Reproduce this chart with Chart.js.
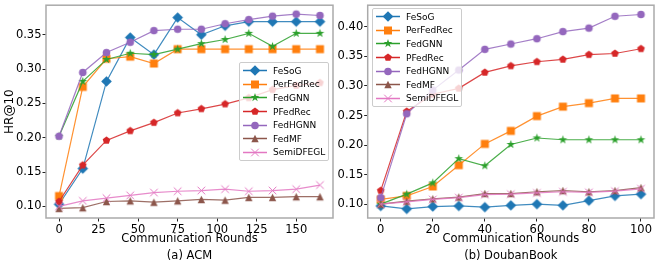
<!DOCTYPE html>
<html>
<head>
<meta charset="utf-8">
<script src="https://cdn.jsdelivr.net/npm/chart.js@4.4.0/dist/chart.umd.min.js"></script>
<style>
  body { margin: 0; background: #fff; font-family: "DejaVu Sans", sans-serif; }
  #wrap { position: relative; width: 660px; height: 264px; overflow: hidden; }
  .panel { position: absolute; top: 0; height: 265px; }
  .legend {
    position: absolute; width: 88px; padding: 1px 0;
    border: 1px solid #cccccc; border-radius: 2px;
    background: rgba(255, 255, 255, 0.8);
  }
  .legend .row { display: flex; align-items: center; height: 13.6px; }
  .legend canvas { margin-left: 3px; margin-right: 6px; }
  .legend span { font-size: 9px; color: #000; white-space: nowrap; }
</style>
</head>
<body>
<div id="wrap">
  <div class="panel" style="left:0;width:340px"><canvas id="acm" width="340" height="265"></canvas></div>
  <div class="panel" style="left:334px;width:326px"><canvas id="douban" width="326" height="265"></canvas></div>
  <div class="legend" id="acm-legend" style="left:239px;top:62px"></div>
  <div class="legend" id="douban-legend" style="left:372px;top:8px"></div>
</div>
<script>
// ---- data ----
const methods = ["FeSoG", "PerFedRec", "FedGNN", "PFedRec", "FedHGNN", "FedMF", "SemiDFEGL"];

const acmRounds = [0, 15, 30, 45, 60, 75, 90, 105, 120, 135, 150, 165];
const acmFeSoG     = [0.103, 0.155, 0.282, 0.346, 0.321, 0.375, 0.350, 0.363, 0.369, 0.369, 0.369, 0.369];
const acmPerFedRec = [0.115, 0.274, 0.315, 0.318, 0.308, 0.329, 0.329, 0.329, 0.329, 0.329, 0.329, 0.329];
const acmFedGNN    = [0.202, 0.282, 0.314, 0.323, 0.321, 0.329, 0.337, 0.343, 0.352, 0.333, 0.352, 0.352];
const acmPFedRec   = [0.107, 0.160, 0.196, 0.210, 0.222, 0.236, 0.242, 0.249, 0.258, 0.270, 0.276, 0.280];
const acmFedHGNN   = [0.202, 0.295, 0.324, 0.339, 0.356, 0.358, 0.358, 0.366, 0.372, 0.377, 0.380, 0.378];
const acmFedMF     = [0.097, 0.098, 0.107, 0.108, 0.106, 0.108, 0.110, 0.109, 0.113, 0.113, 0.114, 0.114];
const acmSemiDFEGL = [0.100, 0.108, 0.112, 0.116, 0.120, 0.122, 0.123, 0.125, 0.122, 0.123, 0.125, 0.131];

const doubanRounds = [0, 10, 20, 30, 40, 50, 60, 70, 80, 90, 100];
const doubanFeSoG     = [0.097, 0.092, 0.096, 0.097, 0.095, 0.098, 0.100, 0.098, 0.106, 0.114, 0.117];
const doubanPerFedRec = [0.108, 0.114, 0.130, 0.166, 0.202, 0.224, 0.249, 0.265, 0.271, 0.279, 0.279];
const doubanFedGNN    = [0.100, 0.117, 0.136, 0.177, 0.165, 0.201, 0.212, 0.209, 0.209, 0.209, 0.209];
const doubanPFedRec   = [0.123, 0.257, 0.286, 0.296, 0.323, 0.334, 0.341, 0.345, 0.353, 0.355, 0.363];
const doubanFedHGNN   = [0.111, 0.253, 0.293, 0.327, 0.362, 0.371, 0.380, 0.392, 0.398, 0.418, 0.421];
const doubanFedMF     = [0.100, 0.105, 0.109, 0.112, 0.118, 0.118, 0.121, 0.123, 0.121, 0.123, 0.128];
const doubanSemiDFEGL = [0.100, 0.104, 0.108, 0.111, 0.116, 0.117, 0.119, 0.121, 0.120, 0.122, 0.126];

const acmXTicks = [0, 25, 50, 75, 100, 125, 150];
const acmYTicks = [0.10, 0.15, 0.20, 0.25, 0.30, 0.35];
const doubanXTicks = [0, 20, 40, 60, 80, 100];
const doubanYTicks = [0.10, 0.15, 0.20, 0.25, 0.30, 0.35, 0.40];

// ---- styles ----
const colors = ["#1f77b4", "#ff7f0e", "#2ca02c", "#d62728", "#9467bd", "#8c564b", "#e377c2"];
const shapes = ["diamond", "square", "star", "pentagon", "circle", "triangle", "x"];

Chart.defaults.font.family = "'DejaVu Sans', sans-serif";
Chart.defaults.color = "#000";

// draw a matplotlib-like marker onto a context, centred at (cx, cy)
function drawMarker(g, shape, color, cx, cy) {
    g.fillStyle = color;
    g.strokeStyle = color;
    g.lineWidth = 1;
    g.beginPath();
    if (shape === "diamond") {
        const r = 5.3;
        g.moveTo(cx, cy - r); g.lineTo(cx + r, cy); g.lineTo(cx, cy + r); g.lineTo(cx - r, cy);
        g.closePath(); g.fill();
    } else if (shape === "square") {
        g.rect(cx - 4, cy - 4, 8, 8); g.fill();
    } else if (shape === "circle") {
        g.arc(cx, cy, 3.8, 0, Math.PI * 2); g.fill();
    } else if (shape === "triangle") {
        const r = 3.7;
        g.moveTo(cx, cy - r); g.lineTo(cx + r, cy + r); g.lineTo(cx - r, cy + r);
        g.closePath(); g.fill();
    } else if (shape === "star" || shape === "pentagon") {
        const n = shape === "star" ? 10 : 5;
        const outer = shape === "star" ? 4.6 : 4.0;
        for (let i = 0; i < n; i++) {
            const r = shape === "star" && i % 2 ? outer * 0.382 : outer;
            const a = -Math.PI / 2 + (i * 2 * Math.PI) / n;
            const px = cx + r * Math.cos(a);
            const py = cy + r * Math.sin(a);
            if (i === 0) g.moveTo(px, py); else g.lineTo(px, py);
        }
        g.closePath(); g.fill();
    } else if (shape === "x") {
        const r = 3.8;
        g.moveTo(cx - r, cy - r); g.lineTo(cx + r, cy + r);
        g.moveTo(cx + r, cy - r); g.lineTo(cx - r, cy + r);
        g.stroke();
    }
}

function markerCanvas(shape, color) {
    const c = document.createElement("canvas");
    c.width = 13; c.height = 13;
    drawMarker(c.getContext("2d"), shape, color, 6.5, 6.5);
    return c;
}

// gray frame round the plot area, like matplotlib spines
const framePlugin = {
    id: "frame",
    afterDatasetsDraw(chart) {
        const { ctx, chartArea: a } = chart;
        ctx.save();
        ctx.strokeStyle = "#aaaaaa";
        ctx.lineWidth = 1.5;
        ctx.strokeRect(a.left, a.top, a.right - a.left, a.bottom - a.top);
        ctx.restore();
    },
};

function buildLegend(id) {
    const box = document.getElementById(id);
    methods.forEach((name, i) => {
        const row = document.createElement("div");
        row.className = "row";
        const c = document.createElement("canvas");
        c.width = 24; c.height = 13;
        const g = c.getContext("2d");
        g.strokeStyle = colors[i];
        g.lineWidth = 1.5;
        g.beginPath(); g.moveTo(0, 6.5); g.lineTo(24, 6.5); g.stroke();
        drawMarker(g, shapes[i], colors[i], 12, 6.5);
        const label = document.createElement("span");
        label.textContent = name;
        row.appendChild(c);
        row.appendChild(label);
        box.appendChild(row);
    });
}

function makeChart(id, rounds, series, cfg) {
    const ctx = document.getElementById(id);
    const datasets = series.map((vals, i) => ({
        label: methods[i],
        data: rounds.map((x, k) => ({ x, y: vals[k] })),
        borderColor: colors[i] + "d9",
        borderWidth: 1.2,
        pointStyle: markerCanvas(shapes[i], colors[i]),
        pointRadius: 4,
        pointHoverRadius: 4,
        tension: 0,
        fill: false,
        order: series.length - i,
    }));
    const tickGrid = { display: true, drawOnChartArea: false, drawTicks: true, tickLength: 3.5, tickColor: "#222", tickWidth: 1 };
    return new Chart(ctx, {
        type: "line",
        data: { datasets },
        options: {
            responsive: false,
            animation: false,
            devicePixelRatio: 1,
            layout: { padding: { top: 4.5, right: cfg.padRight, left: 0, bottom: 0 } },
            plugins: { legend: { display: false }, tooltip: { enabled: false } },
            scales: {
                x: {
                    type: "linear",
                    min: cfg.xMin,
                    max: cfg.xMax,
                    grid: tickGrid,
                    border: { display: false },
                    ticks: { font: { size: 11.5 }, padding: 1.5, maxRotation: 0, callback: (v) => v },
                    afterBuildTicks: (s) => { s.ticks = cfg.xTicks.map((v) => ({ value: v })); },
                    afterFit: (s) => { s.height = 47; s.paddingLeft = 0; s.paddingRight = 0; },
                    title: {
                        display: true,
                        text: ["Communication Rounds", cfg.caption],
                        font: { size: 11.5, lineHeight: 17 / 11.5 },
                        padding: { top: 0, bottom: 0 },
                    },
                },
                y: {
                    min: cfg.yMin,
                    max: cfg.yMax,
                    grid: tickGrid,
                    border: { display: false },
                    ticks: { font: { size: 11.5 }, padding: 1, callback: (v) => v.toFixed(2) },
                    afterBuildTicks: (s) => { s.ticks = cfg.yTicks.map((v) => ({ value: v })); },
                    afterFit: (s) => { s.width = cfg.yWidth; s.paddingTop = 0; s.paddingBottom = 0; },
                    title: {
                        display: !!cfg.yTitle,
                        text: cfg.yTitle || "",
                        font: { size: 12 },
                        padding: { top: 3, bottom: 0 },
                    },
                },
            },
        },
        plugins: [framePlugin],
    });
}

makeChart(
    "acm",
    acmRounds,
    [acmFeSoG, acmPerFedRec, acmFedGNN, acmPFedRec, acmFedHGNN, acmFedMF, acmSemiDFEGL],
    {
        xMin: -8.25, xMax: 173.25, yMin: 0.083, yMax: 0.393,
        xTicks: acmXTicks, yTicks: acmYTicks,
        caption: "(a) ACM", yTitle: "HR@10", yWidth: 46, padRight: 7,
    }
);
makeChart(
    "douban",
    doubanRounds,
    [doubanFeSoG, doubanPerFedRec, doubanFedGNN, doubanPFedRec, doubanFedHGNN, doubanFedMF, doubanSemiDFEGL],
    {
        xMin: -5, xMax: 105, yMin: 0.0766, yMax: 0.4367,
        xTicks: doubanXTicks, yTicks: doubanYTicks,
        caption: "(b) DoubanBook", yTitle: null, yWidth: 33.7, padRight: 6,
    }
);
buildLegend("acm-legend");
buildLegend("douban-legend");
</script>
</body>
</html>
